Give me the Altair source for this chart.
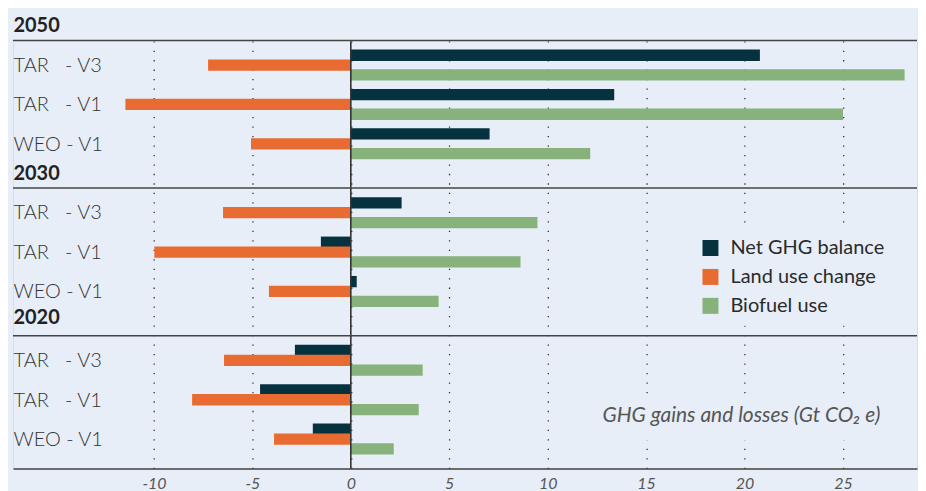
import altair as alt
import pandas as pd

years = ["2050", "2030", "2020"]
scenarios = ["TAR\u00a0\u00a0\u00a0- V3", "TAR\u00a0\u00a0\u00a0- V1", "WEO - V1"]
series = ["Net GHG balance", "Land use change", "Biofuel use"]
codes = ["N", "L", "B"]
colors = ["#06323F", "#E86C32", "#87B27B"]

# values in Gt CO2 e, order: 2050 (TAR-V3, TAR-V1, WEO-V1), 2030 (...), 2020 (...)
net = [20.78, 13.38, 7.05, 2.58, -1.52, 0.30, -2.84, -4.61, -1.93]
luc = [-7.25, -11.45, -5.07, -6.49, -9.98, -4.16, -6.44, -8.06, -3.90]
bio = [28.13, 25.0, 12.16, 9.48, 8.62, 4.46, 3.65, 3.45, 2.18]

ticks = [-10, -5, 0, 5, 10, 15, 20, 25]
note = "GHG gains and losses (Gt CO\u2082 e)"
bg = "#E7EEF8"

rows = []
for yr in years:
    rows += [f"{yr}|pad", f"{yr}|hdr", f"{yr}|pad2", f"{yr}|sep"]
    for si, sc in enumerate(scenarios):
        if si > 0:
            rows.append(f"{yr}|{sc}|gap")
        for c in codes:
            rows.append(f"{yr}|{sc}|{c}")
rows.append("bottom")

recs = []
k = 0
for yr in years:
    for sc in scenarios:
        for c, s, vals in zip(codes, series, [net, luc, bio]):
            recs.append({"row": f"{yr}|{sc}|{c}", "series": s, "value": vals[k]})
        k += 1
df = pd.DataFrame(recs)

sep_df = pd.DataFrame({"row": [f"{yr}|sep" for yr in years]})
mask_df = pd.DataFrame({"row": [f"{years[0]}|pad", f"{years[0]}|hdr", f"{years[0]}|pad2"]})

W, H = 906, 458.6
xscale = alt.Scale(domain=[-17.16, 28.76], nice=False, zero=False)
yscale = alt.Scale(domain=rows, paddingInner=0, paddingOuter=0.245, align=0)

hdr_test = "split(datum.value,'|')[1] == 'hdr'"
shown_test = "split(datum.value,'|')[1] == 'hdr' || split(datum.value,'|')[2] == 'L'"
yaxis = alt.Axis(
    title=None, ticks=False, tickSize=0, domain=False, grid=False, zindex=1,
    labelAlign="left", labelPadding=0, labelOverlap=False, labelLimit=300,
    labelExpr="split(datum.value,'|')[1] == 'hdr' ? split(datum.value,'|')[0] : "
              "(split(datum.value,'|')[2] == 'L' ? split(datum.value,'|')[1] : '')",
    labelFont="Lato",
    labelFontSize={"condition": {"test": shown_test, "value": 20}, "value": 1},
    labelFontWeight={"condition": {"test": hdr_test, "value": "bold"}, "value": 300},
    labelColor={"condition": {"test": hdr_test, "value": "#222222"}, "value": "#333333"},
    labelOffset={"condition": {"test": "datum.value == '2020|hdr'", "value": -2.5}, "value": 0.8},
)
xaxis = alt.Axis(
    title=None, values=ticks, ticks=False, tickSize=0,
    labelExpr="'' + datum.value", labelFont="Lato", labelFontStyle="italic",
    labelFontSize=16, labelColor="#555555", labelPadding=7,
    domain=True, domainColor="#444444", domainWidth=1.5,
    grid=True, gridColor="#333333", gridDash=[1.3, 8.2], gridWidth=1.3,
)

bars = alt.Chart(df).mark_bar(height={"band": 1.15}).encode(
    x=alt.X("value:Q", scale=xscale, axis=xaxis),
    y=alt.Y("row:N", scale=yscale, axis=yaxis),
    color=alt.Color(
        "series:N",
        scale=alt.Scale(domain=series, range=colors),
        legend=alt.Legend(
            title=None, orient="none", legendX=679, legendY=217.6, padding=10,
            fillColor=bg, symbolType="square", symbolSize=256, symbolStrokeWidth=0,
            labelFont="Lato", labelFontSize=20, labelColor="#2a2a2a",
            rowPadding=9, labelOffset=10,
        ),
    ),
)

zero = alt.Chart(pd.DataFrame({"v": [0]})).mark_rule(color="#333333", strokeWidth=1.6).encode(
    x=alt.X("v:Q", scale=xscale)
)

mask = alt.Chart(mask_df).mark_rect(color=bg, stroke=bg, strokeWidth=1.5).encode(
    y=alt.Y("row:N", scale=yscale), x=alt.value(0), x2=alt.value(W)
)

seps = alt.Chart(sep_df).mark_rule(color="#444444", strokeWidth=1.5).encode(
    y=alt.Y("row:N", scale=yscale, bandPosition=0)
)

note_box = alt.Chart(pd.DataFrame({"t": [note]})).mark_rect(color=bg).encode(
    x=alt.value(578), x2=alt.value(W), y=alt.value(385.6), y2=alt.value(430.6)
)
note_text = alt.Chart(pd.DataFrame({"t": [note]})).mark_text(
    font="Lato", fontSize=21, fontStyle="italic", color="#555555", align="center", baseline="middle"
).encode(x=alt.value(730), y=alt.value(405.6), text="t:N")

chart = alt.layer(bars, zero, mask, seps, note_box, note_text).properties(
    width=W, height=H,
    padding={"left": 4, "top": 1.4, "right": 0, "bottom": 0},
    background=bg,
).configure_view(stroke=None).configure(font="Lato")

chart.save("out.html", embed_options={"renderer": "svg", "actions": False})
